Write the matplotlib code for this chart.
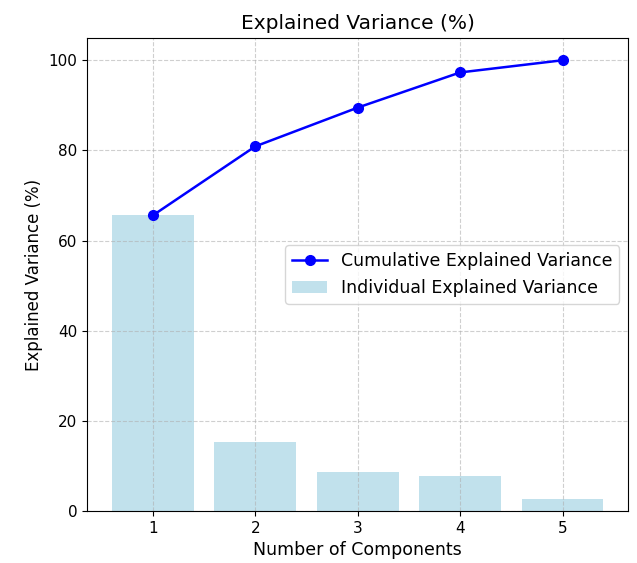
import numpy as np
import matplotlib.pyplot as plt

components = [1, 2, 3, 4, 5]
individual = [65.6, 15.3, 8.6, 7.8, 2.7]
cumulative = [65.6, 80.9, 89.5, 97.3, 100.0]

fig, ax = plt.subplots(figsize=(6.37, 5.63), dpi=100)

ax.bar(components, individual, color='lightblue', alpha=0.75, label='Individual Explained Variance')
ax.plot(components, cumulative, marker='o', color='blue', linewidth=1.8, markersize=7,
        label='Cumulative Explained Variance')

ax.set_title('Explained Variance (%)', fontsize=14.5)
ax.set_xlabel('Number of Components', fontsize=12.5)
ax.set_ylabel('Explained Variance (%)', fontsize=12)
ax.set_xticks(components)
ax.tick_params(labelsize=11)
ax.grid(True, linestyle='--', alpha=0.6)
ax.legend(loc='center right', fontsize=12.5)

plt.subplots_adjust(left=0.137, right=0.986, top=0.933, bottom=0.092)
plt.savefig('out.png')
